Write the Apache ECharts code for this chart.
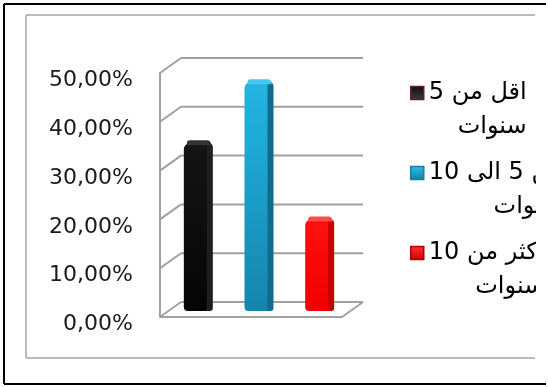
<!DOCTYPE html>
<html><head><meta charset="utf-8">
<script src="https://cdn.jsdelivr.net/npm/echarts@6/dist/echarts.min.js"></script>
<style>html,body{margin:0;padding:0;background:#fff;overflow:hidden;}#c{width:548px;height:387px;}</style>
</head><body><div id="c"></div>
<script>
// ---- data ----
const categories = ['اقل من 5 سنوات', 'من 5 الى 10 سنوات', 'اكثر من 10 سنوات'];
const values = [34.38, 46.88, 18.75];
const legendLine1 = ['اقل من 5', 'من 5 الى 10', 'اكثر من 10'];
const legendLine2 = ['سنوات', 'سنوات', 'سنوات'];
const yTicks = [0, 10, 20, 30, 40, 50];

// ---- styles ----
const GRID_COLOR = '#a0a0a0';
const DX = 21, DY = -15;      // depth of the 3D frame
const BX = 8, BY = -6;        // depth position of bars
const palettes = [
  {front: ['#141414', '#050505'], side: '#1e1e1e', top: '#333333', legend: ['#101010', '#3a3a3a'], legendBorder: '#6b1c1c'},
  {front: ['#22b5e3', '#1485ad'], side: '#0f6c8c', top: '#45c8ef', legend: ['#2bc0ea', '#147fa3'], legendBorder: '#1a7fa0'},
  {front: ['#ff1010', '#f00000'], side: '#c40000', top: '#ff4a4a', legend: ['#ff3030', '#cc0000'], legendBorder: '#b00000'}
];
const LEGEND_TOPS = [57, 137, 217];
const LINE_H = 34;

function vgrad(c) {
  return new echarts.graphic.LinearGradient(0, 0, 0, 1, [{offset: 0, color: c[0]}, {offset: 1, color: c[1]}]);
}

function renderFrame(params, api) {
  const cs = params.coordSys;
  const v = api.value(1);
  const y = api.coord([0, v])[1];
  const x0 = cs.x, x1 = cs.x + cs.width;
  const st = {stroke: GRID_COLOR, lineWidth: 2};
  const ch = [
    {type: 'line', shape: {x1: x0, y1: y, x2: x0 + DX, y2: y + DY}, style: st},
    {type: 'line', shape: {x1: x0 + DX, y1: y + DY, x2: x1 + DX, y2: y + DY}, style: st}
  ];
  if (v === 0) {
    ch.push({type: 'line', shape: {x1: x0, y1: y, x2: x1, y2: y}, style: st});
    ch.push({type: 'line', shape: {x1: x1, y1: y, x2: x1 + DX, y2: y + DY}, style: st});
  }
  return {type: 'group', children: ch};
}

function makeBarRenderer(k) {
  const p = palettes[k];
  return function (params, api) {
    const base = api.coord([api.value(0), 0]);
    const top = api.coord([api.value(0), api.value(1)]);
    const fw = 23, sw = 6;
    const cx = base[0] + BX;
    const left = cx - (fw + sw) / 2;
    const by = base[1] + BY;
    const ty = top[1] + BY;
    return {
      type: 'group',
      children: [
        {type: 'rect', shape: {x: left + fw - 3, y: ty - 1, width: sw + 3, height: by - ty + 1, r: [2, 5, 3, 0]},
         style: {fill: p.side}},
        {type: 'rect', shape: {x: left, y: ty, width: fw, height: by - ty, r: [6, 2, 2, 4]},
         style: {fill: vgrad(p.front)}},
        {type: 'rect', shape: {x: left + 3, y: ty - 3, width: fw + sw - 5, height: 5, r: [3, 4, 0, 0]},
         style: {fill: p.top}}
      ]
    };
  };
}

const series = [{
  type: 'custom', name: 'frame', silent: true, z: 1,
  renderItem: renderFrame,
  data: yTicks.map(t => [0, t]),
  tooltip: {show: false}
}];
categories.forEach((c, i) => {
  series.push({
    type: 'custom', name: c, z: 2,
    renderItem: makeBarRenderer(i),
    itemStyle: {color: palettes[i].front[0]},
    data: [[i, values[i]]]
  });
});

const legends = categories.map((c, i) => ({
  orient: 'vertical', left: 410, top: LEGEND_TOPS[i], padding: 0,
  itemWidth: 13, itemHeight: 13, icon: 'rect', align: 'left',
  data: [{
    name: c,
    itemStyle: {color: vgrad(palettes[i].legend), borderColor: palettes[i].legendBorder, borderWidth: 1.5}
  }],
  formatter: () => '{e|\u00a0}\n{r|' + legendLine1[i] + '}\n{r|' + legendLine2[i] + '}',
  textStyle: {
    fontFamily: 'DejaVu Sans', fontSize: 24, color: '#000',
    rich: {
      e: {lineHeight: LINE_H, fontSize: 4},
      r: {align: 'right', lineHeight: LINE_H, fontSize: 24, fontFamily: 'DejaVu Sans', color: '#000'}
    }
  }
}));

const grayLine = {stroke: '#a6a6a6', lineWidth: 1.5};
const blackLine = {stroke: '#000', lineWidth: 2};
const chart = echarts.init(document.getElementById('c'));
chart.setOption({
  animation: false,
  grid: {left: 160, top: 73, width: 182, height: 244, containLabel: false},
  xAxis: {type: 'category', data: categories, axisLine: {show: false}, axisTick: {show: false}, axisLabel: {show: false}, splitLine: {show: false}},
  yAxis: {
    type: 'value', min: 0, max: 50, interval: 10,
    axisLine: {show: true, lineStyle: {color: GRID_COLOR, width: 2}},
    axisTick: {show: false},
    splitLine: {show: false},
    axisLabel: {
      margin: 27, color: '#1a1a1a', fontSize: 22, fontFamily: 'DejaVu Sans',
      verticalAlign: 'top', lineHeight: 15,
      formatter: v => v.toFixed(2).replace('.', ',') + '%'
    }
  },
  legend: legends,
  graphic: [
    {type: 'line', z: -1, silent: true, shape: {x1: 26, y1: 15, x2: 535, y2: 15}, style: grayLine},
    {type: 'line', z: -1, silent: true, shape: {x1: 26, y1: 15, x2: 26, y2: 358}, style: grayLine},
    {type: 'line', z: -1, silent: true, shape: {x1: 26, y1: 358, x2: 535, y2: 358}, style: grayLine},
    {type: 'rect', z: 100, silent: true, shape: {x: 536, y: 0, width: 12, height: 387}, style: {fill: '#ffffff'}},
    {type: 'line', z: 101, silent: true, shape: {x1: 4, y1: 4, x2: 546, y2: 4}, style: blackLine},
    {type: 'line', z: 101, silent: true, shape: {x1: 4, y1: 4, x2: 4, y2: 384}, style: blackLine},
    {type: 'line', z: 101, silent: true, shape: {x1: 4, y1: 384, x2: 546, y2: 384}, style: blackLine}
  ],
  series: series
});
</script></body></html>
